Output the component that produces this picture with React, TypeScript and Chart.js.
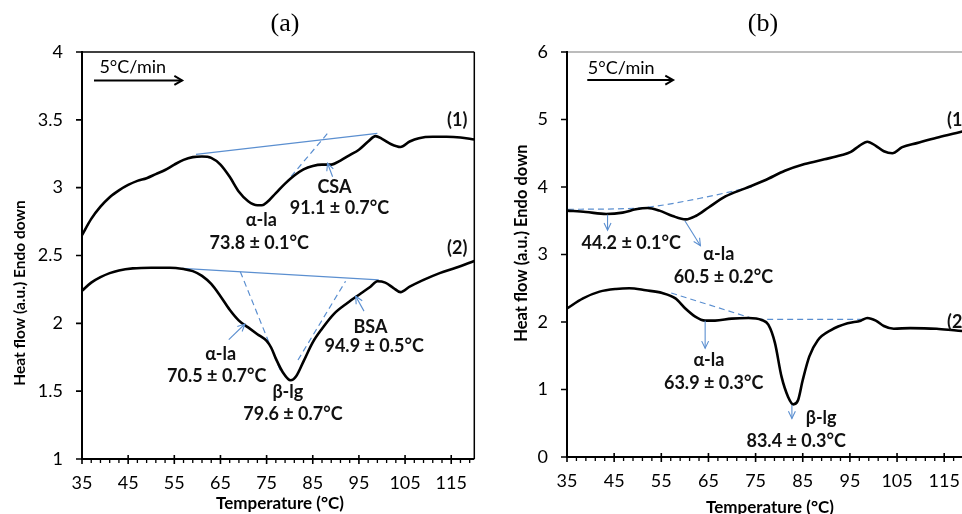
import React, { useEffect, useRef } from "react";
import { Chart, registerables } from "chart.js";
Chart.register(...registerables);

const FONT = "Lato, 'Open Sans', sans-serif";
const SERIF = "'Liberation Serif', 'DejaVu Serif', serif";
const BLUE = "#5b8fd0";

// ---------- Panel (a) ----------
const tempA1 = [35, 37, 39, 41, 43, 45, 47, 49, 51, 53, 55, 57, 59, 61, 63, 65, 67, 69, 71, 73, 74, 75, 77, 79, 81, 83, 85, 87, 89, 91, 93, 95, 97, 98.6, 100, 102, 104, 106, 108, 111, 114, 117, 120];
const heatA1 = [2.65, 2.77, 2.86, 2.93, 2.98, 3.02, 3.05, 3.07, 3.1, 3.13, 3.17, 3.205, 3.225, 3.23, 3.22, 3.17, 3.08, 2.97, 2.9, 2.87, 2.87, 2.89, 2.96, 3.03, 3.09, 3.135, 3.16, 3.17, 3.17, 3.2, 3.24, 3.28, 3.34, 3.38, 3.36, 3.32, 3.3, 3.34, 3.365, 3.375, 3.375, 3.37, 3.355];
const tempA2 = [35, 37, 39, 41, 43, 46, 50, 54, 57, 59, 61, 63, 65, 67, 69, 71, 73, 75, 76, 77, 78.5, 80.2, 81.4, 83, 85, 87, 89.6, 92.5, 95.4, 97.5, 99, 100.7, 102.5, 104, 106, 109, 112.5, 116, 120];
const heatA2 = [2.24, 2.3, 2.34, 2.37, 2.39, 2.405, 2.41, 2.41, 2.4, 2.385, 2.35, 2.29, 2.2, 2.1, 2.02, 1.97, 1.92, 1.87, 1.82, 1.74, 1.64, 1.58, 1.61, 1.72, 1.86, 1.96, 2.07, 2.15, 2.22, 2.27, 2.31, 2.3, 2.26, 2.23, 2.27, 2.32, 2.37, 2.41, 2.46];
const xTicksA = [35, 45, 55, 65, 75, 85, 95, 105, 115];
const yTicksA = [1, 1.5, 2, 2.5, 3, 3.5, 4];

// ---------- Panel (b) ----------
const tempB1 = [35, 39, 43.3, 46.8, 49.6, 52.1, 54.6, 57.4, 60.2, 62.3, 65.1, 68.6, 72.8, 77, 81.2, 85.4, 89.6, 93.1, 95.2, 97, 98.7, 100.5, 102.2, 104, 106.1, 109.2, 113.4, 117.6, 121];
const heatB1 = [3.65, 3.63, 3.6, 3.62, 3.67, 3.69, 3.65, 3.57, 3.52, 3.57, 3.7, 3.86, 3.98, 4.1, 4.24, 4.34, 4.41, 4.47, 4.52, 4.61, 4.67, 4.61, 4.53, 4.5, 4.59, 4.65, 4.73, 4.8, 4.86];
const tempB2 = [35, 38.4, 41.9, 45.4, 48.2, 51.7, 55.2, 58, 60.1, 62.2, 64.3, 66.4, 69.9, 73.5, 76.3, 77.7, 79.1, 80.5, 81.9, 83, 84, 85, 86.4, 88.2, 91, 94.5, 97.3, 98.7, 100.5, 102.2, 104.3, 107.8, 113.4, 118, 121];
const heatB2 = [2.2, 2.35, 2.45, 2.49, 2.5, 2.47, 2.43, 2.35, 2.2, 2.08, 2.02, 2.02, 2.05, 2.06, 2.03, 1.96, 1.69, 1.19, 0.89, 0.78, 0.84, 1.14, 1.49, 1.73, 1.88, 1.98, 2.02, 2.06, 2.02, 1.94, 1.9, 1.91, 1.9, 1.87, 1.86];
const xTicksB = [35, 45, 55, 65, 75, 85, 95, 105, 115, 125];
const yTicksB = [0, 1, 2, 3, 4, 5, 6];

type Txt = { t: string; x: number; y: number; bold?: boolean; align?: CanvasTextAlign };
type Arr = { x0: number; y0: number; x1: number; y1: number };
type Base = { xs: number[]; ys: number[]; dashed: boolean; smooth?: boolean };

interface Panel {
  title: string; titleX: number;
  curves: { xs: number[]; ys: number[] }[];
  bases: Base[];
  texts: Txt[];
  arrows: Arr[];
  rate: { x: number; y: number; ax0: number; ax1: number; ay: number };
  xMin: number; xMax: number; yMin: number; yMax: number;
  xTicks: number[]; yTicks: number[];
  width: number; height: number;
  padTop: number; padRight: number; yWidth: number; xHeight: number;
  yTitleX: number; yTitleY: number; yTitleSize: number;
  xTitleX: number; xTitleY: number;
  topColor: string; rightBorder: boolean;
}

const panelA: Panel = {
  title: "(a)", titleX: 285,
  curves: [{ xs: tempA1, ys: heatA1 }, { xs: tempA2, ys: heatA2 }],
  bases: [
    { xs: [59.7, 99], ys: [3.246, 3.4], dashed: false },
    { xs: [77.5, 88.2], ys: [2.97, 3.4], dashed: true },
    { xs: [56.7, 99.3], ys: [2.405, 2.32], dashed: false },
    { xs: [69.3, 78], ys: [2.38, 1.65], dashed: true },
    { xs: [81.8, 92.1], ys: [1.73, 2.31], dashed: true },
  ],
  texts: [
    { t: "CSA", x: 89.7, y: 3.0, bold: true },
    { t: "91.1 ± 0.7°C", x: 90.8, y: 2.85, bold: true },
    { t: "α-la", x: 73.85, y: 2.76, bold: true },
    { t: "73.8 ± 0.1°C", x: 73.4, y: 2.59, bold: true },
    { t: "(1)", x: 116.3, y: 3.5, bold: true },
    { t: "(2)", x: 116.3, y: 2.555, bold: true },
    { t: "BSA", x: 97.5, y: 1.97, bold: true },
    { t: "94.9 ± 0.5°C", x: 98.3, y: 1.83, bold: true },
    { t: "α-la", x: 65.05, y: 1.77, bold: true },
    { t: "70.5 ± 0.7°C", x: 64.2, y: 1.61, bold: true },
    { t: "β-lg", x: 79.6, y: 1.49, bold: true },
    { t: "79.6 ± 0.7°C", x: 80.7, y: 1.33, bold: true },
  ],
  arrows: [
    { x0: 89.3, y0: 3.08, x1: 88.2, y1: 3.18 },
    { x0: 66.8, y0: 1.88, x1: 70.3, y1: 1.995 },
    { x0: 96.1, y0: 2.09, x1: 94.3, y1: 2.2 },
  ],
  rate: { x: 46, y: 3.89, ax0: 37.6, ax1: 56.7, ay: 3.79 },
  xMin: 35, xMax: 120, yMin: 1, yMax: 4,
  xTicks: xTicksA, yTicks: yTicksA,
  width: 480, height: 514,
  padTop: 52, padRight: 2, yWidth: 82, xHeight: 55,
  yTitleX: 20, yTitleY: 293, yTitleSize: 15.5,
  xTitleX: 280, xTitleY: 504,
  topColor: "#000", rightBorder: true,
};

const panelB: Panel = {
  title: "(b)", titleX: 283,
  curves: [{ xs: tempB1, ys: heatB1 }, { xs: tempB2, ys: heatB2 }],
  bases: [
    { xs: [35.2, 45, 52, 63, 74.2], ys: [3.67, 3.675, 3.7, 3.83, 4.0], dashed: true, smooth: true },
    { xs: [57.1, 74.9, 98.7], ys: [2.43, 2.04, 2.04], dashed: true },
  ],
  texts: [
    { t: "44.2 ± 0.1°C", x: 48.6, y: 3.175, bold: true },
    { t: "α-la", x: 67.2, y: 3.0, bold: true },
    { t: "60.5 ± 0.2°C", x: 68.2, y: 2.67, bold: true },
    { t: "(1)", x: 115.6, y: 4.99, bold: true, align: "left" },
    { t: "(2)", x: 115.6, y: 2.0, bold: true, align: "left" },
    { t: "α-la", x: 65.1, y: 1.44, bold: true },
    { t: "63.9 ± 0.3°C", x: 66.1, y: 1.1, bold: true },
    { t: "β-lg", x: 88.9, y: 0.57, bold: true },
    { t: "83.4 ± 0.3°C", x: 83.6, y: 0.24, bold: true },
  ],
  arrows: [
    { x0: 43.6, y0: 3.59, x1: 43.6, y1: 3.36 },
    { x0: 60.0, y0: 3.5, x1: 63.3, y1: 3.13 },
    { x0: 64.3, y0: 2.02, x1: 64.3, y1: 1.61 },
    { x0: 82.7, y0: 0.77, x1: 82.7, y1: 0.57 },
  ],
  rate: { x: 46.5, y: 5.76, ax0: 39.3, ax1: 57.5, ay: 5.585 },
  xMin: 35, xMax: 125, yMin: 0, yMax: 6,
  xTicks: xTicksB, yTicks: yTicksB,
  width: 540, height: 522,
  padTop: 52, padRight: 25, yWidth: 87, xHeight: 65,
  yTitleX: 42, yTitleY: 243, yTitleSize: 16.5,
  xTitleX: 290, xTitleY: 508,
  topColor: "#a6a6a6", rightBorder: false,
};

function drawArrowHead(ctx: CanvasRenderingContext2D, x0: number, y0: number, x1: number, y1: number, len: number, ang: number) {
  const a = Math.atan2(y1 - y0, x1 - x0);
  ctx.beginPath();
  ctx.moveTo(x1 - len * Math.cos(a - ang), y1 - len * Math.sin(a - ang));
  ctx.lineTo(x1, y1);
  ctx.lineTo(x1 - len * Math.cos(a + ang), y1 - len * Math.sin(a + ang));
  ctx.stroke();
}

function makePlugin(p: Panel) {
  return {
    id: "decor",
    afterDraw(chart: any) {
      const { ctx, chartArea: ca } = chart;
      const xs = chart.scales.x;
      const ys = chart.scales.y;
      const W = chart.width;
      ctx.save();
      // top border
      ctx.strokeStyle = p.topColor;
      ctx.lineWidth = 1.5;
      ctx.beginPath();
      ctx.moveTo(ca.left, ca.top);
      ctx.lineTo(p.rightBorder ? ca.right : W, ca.top);
      ctx.stroke();
      if (p.rightBorder) {
        ctx.strokeStyle = "#000";
        ctx.beginPath();
        ctx.moveTo(ca.right, ca.top);
        ctx.lineTo(ca.right, ca.bottom);
        ctx.stroke();
      }
      // axes
      ctx.strokeStyle = "#000";
      ctx.lineWidth = 2;
      ctx.beginPath();
      ctx.moveTo(ca.left, ca.top - 1);
      ctx.lineTo(ca.left, ca.bottom + 1);
      ctx.moveTo(ca.left, ca.bottom);
      ctx.lineTo(ca.right, ca.bottom);
      ctx.stroke();
      // x ticks
      ctx.lineWidth = 1.6;
      ctx.beginPath();
      for (const v of p.xTicks) {
        const px = xs.getPixelForValue(v);
        ctx.moveTo(px, ca.bottom - 4);
        ctx.lineTo(px, ca.bottom + 5);
      }
      ctx.stroke();
      ctx.lineWidth = 1.3;
      ctx.beginPath();
      for (let v = p.xMin; v <= p.xMax; v += 2) {
        if (p.xTicks.some((t) => Math.abs((v - t) % 10) < 1e-6)) continue;
        const px = xs.getPixelForValue(v);
        ctx.moveTo(px, ca.bottom);
        ctx.lineTo(px, ca.bottom + 4);
      }
      ctx.stroke();
      // y ticks
      ctx.lineWidth = 1.6;
      ctx.beginPath();
      for (const v of p.yTicks) {
        const py = ys.getPixelForValue(v);
        ctx.moveTo(ca.left - 6, py);
        ctx.lineTo(ca.left, py);
      }
      ctx.stroke();

      // panel title
      ctx.fillStyle = "#000";
      ctx.font = `26px ${SERIF}`;
      ctx.textAlign = "center";
      ctx.textBaseline = "middle";
      ctx.fillText(p.title, p.titleX, 24);

      // axis titles
      ctx.font = `bold 17px ${FONT}`;
      ctx.fillText("Temperature (°C)", p.xTitleX, p.xTitleY);
      ctx.save();
      ctx.translate(p.yTitleX, p.yTitleY);
      ctx.rotate(-Math.PI / 2);
      ctx.font = `bold ${p.yTitleSize}px ${FONT}`;
      ctx.fillText("Heat flow (a.u.) Endo down", 0, 0);
      ctx.restore();

      // rate label + arrow
      ctx.font = `18px ${FONT}`;
      ctx.fillText("5°C/min", xs.getPixelForValue(p.rate.x), ys.getPixelForValue(p.rate.y));
      const ax0 = xs.getPixelForValue(p.rate.ax0);
      const ax1 = xs.getPixelForValue(p.rate.ax1);
      const ay = ys.getPixelForValue(p.rate.ay);
      ctx.lineWidth = 2;
      ctx.beginPath();
      ctx.moveTo(ax0, ay);
      ctx.lineTo(ax1, ay);
      ctx.stroke();
      drawArrowHead(ctx, ax0, ay, ax1, ay, 9, Math.PI / 6);

      // annotation arrows
      ctx.strokeStyle = BLUE;
      ctx.lineWidth = 1.1;
      for (const a of p.arrows) {
        const x0 = xs.getPixelForValue(a.x0), y0 = ys.getPixelForValue(a.y0);
        const x1 = xs.getPixelForValue(a.x1), y1 = ys.getPixelForValue(a.y1);
        ctx.beginPath();
        ctx.moveTo(x0, y0);
        ctx.lineTo(x1, y1);
        ctx.stroke();
        drawArrowHead(ctx, x0, y0, x1, y1, 8, Math.PI / 7);
      }

      // annotation texts
      ctx.fillStyle = "#111";
      for (const t of p.texts) {
        ctx.font = `${t.bold ? "bold " : ""}18px ${FONT}`;
        ctx.textAlign = t.align || "center";
        ctx.fillText(t.t, xs.getPixelForValue(t.x), ys.getPixelForValue(t.y));
      }
      ctx.restore();
    },
  };
}

function makeConfig(p: Panel): any {
  const datasets: any[] = [];
  for (const c of p.curves) {
    datasets.push({
      data: c.xs.map((x, i) => ({ x, y: c.ys[i] })),
      borderColor: "#000",
      borderWidth: 2.6,
      pointRadius: 0,
      cubicInterpolationMode: "monotone",
      fill: false,
    });
  }
  for (const b of p.bases) {
    datasets.push({
      data: b.xs.map((x, i) => ({ x, y: b.ys[i] })),
      borderColor: BLUE,
      borderWidth: 1.2,
      borderDash: b.dashed ? [6, 4] : [],
      pointRadius: 0,
      cubicInterpolationMode: b.smooth ? "monotone" : "default",
      tension: 0,
      fill: false,
    });
  }
  const tickFont = { family: FONT, size: 18 };
  return {
    type: "line",
    data: { datasets },
    options: {
      animation: false,
      responsive: false,
      devicePixelRatio: 1,
      layout: { padding: { top: p.padTop, right: p.padRight, left: 0, bottom: 0 } },
      plugins: { legend: { display: false }, tooltip: { enabled: false }, title: { display: false } },
      scales: {
        x: {
          type: "linear",
          min: p.xMin,
          max: p.xMax,
          afterBuildTicks: (s: any) => { s.ticks = p.xTicks.map((v) => ({ value: v })); },
          afterFit: (s: any) => { s.height = p.xHeight; },
          grid: { display: false, drawTicks: false },
          border: { display: false },
          ticks: { color: "#000", font: tickFont, padding: 13, maxRotation: 0, autoSkip: false },
        },
        y: {
          type: "linear",
          min: p.yMin,
          max: p.yMax,
          afterBuildTicks: (s: any) => { s.ticks = p.yTicks.map((v) => ({ value: v })); },
          afterFit: (s: any) => { s.width = p.yWidth; },
          grid: { display: false, drawTicks: false },
          border: { display: false },
          ticks: { color: "#000", font: tickFont, padding: 19, callback: (v: any) => String(v) },
        },
      },
    },
    plugins: [makePlugin(p)],
  };
}

function PanelChart({ p, left }: { p: Panel; left: number }) {
  const ref = useRef<HTMLCanvasElement>(null);
  useEffect(() => {
    if (!ref.current) return;
    const chart = new Chart(ref.current, makeConfig(p));
    return () => chart.destroy();
  }, [p]);
  return (
    <canvas
      ref={ref}
      width={p.width}
      height={p.height}
      style={{ position: "absolute", left, top: 0, width: p.width, height: p.height }}
    />
  );
}

export default function App() {
  return (
    <div style={{ position: "fixed", left: 0, top: 0, width: 962, height: 514, overflow: "hidden", background: "#fff" }}>
      <PanelChart p={panelA} left={0} />
      <PanelChart p={panelB} left={480} />
    </div>
  );
}
